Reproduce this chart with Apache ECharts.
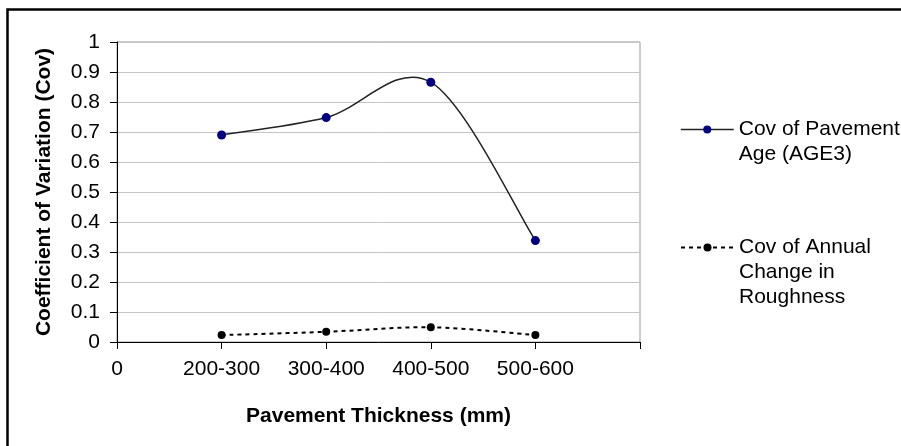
<!DOCTYPE html>
<html>
<head>
<meta charset="utf-8">
<script src="https://cdn.jsdelivr.net/npm/echarts@6/dist/echarts.min.js"></script>
<style>
html,body{margin:0;padding:0;background:#fff;}
#chart{width:901px;height:446px;}
</style>
</head>
<body>
<div id="chart"></div>
<script>
// ---- data ----
var categories = ['200-300', '300-400', '400-500', '500-600'];
var xTickLabels = ['0', '200-300', '300-400', '400-500', '500-600', ''];
var covAge = [0.69, 0.748, 0.866, 0.338];
var covRoughness = [0.023, 0.034, 0.049, 0.023];
var seriesNames = ['Cov of Pavement Age (AGE3)', 'Cov of Annual Change in Roughness'];
var legendText = [' \nCov of Pavement\nAge (AGE3)', ' \n \nCov of Annual\nChange in\nRoughness'];

var FONT = "'Liberation Sans', Arial, sans-serif";

function toPoints(vals) {
  return vals.map(function (v, i) { return [i + 1, v]; });
}

// Excel-like (Catmull-Rom) smoothed path through the data, mapped via the axes
function splineRenderer(values, stroke, width, dash) {
  return function (params, api) {
    if (params.dataIndex !== 0) return null;
    var pts = values.map(function (v, i) { return api.coord([i + 1, v]); });
    var n = pts.length;
    var d = 'M' + pts[0][0] + ' ' + pts[0][1];
    for (var i = 0; i < n - 1; i++) {
      var p0 = pts[Math.max(i - 1, 0)], p1 = pts[i], p2 = pts[i + 1], p3 = pts[Math.min(i + 2, n - 1)];
      var c1x = p1[0] + (p2[0] - p0[0]) / 6, c1y = p1[1] + (p2[1] - p0[1]) / 6;
      var c2x = p2[0] - (p3[0] - p1[0]) / 6, c2y = p2[1] - (p3[1] - p1[1]) / 6;
      d += ' C' + c1x + ' ' + c1y + ' ' + c2x + ' ' + c2y + ' ' + p2[0] + ' ' + p2[1];
    }
    return {
      type: 'path',
      shape: { pathData: d },
      style: { fill: 'none', stroke: stroke, lineWidth: width, lineDash: dash || null }
    };
  };
}

var chart = echarts.init(document.getElementById('chart'));
chart.setOption({
  animation: false,
  backgroundColor: '#fff',
  textStyle: { fontFamily: FONT },
  grid: { left: 117, right: 261, top: 42, bottom: 104, show: true, borderColor: '#9a9a9a', borderWidth: 1, backgroundColor: 'transparent' },
  xAxis: {
    type: 'value', min: 0, max: 5, interval: 1,
    name: 'Pavement Thickness (mm)', nameLocation: 'middle', nameGap: 64,
    nameTextStyle: { fontFamily: FONT, fontSize: 21, fontWeight: 'bold', color: '#000' },
    axisLine: { show: true, onZero: false, lineStyle: { color: '#000', width: 1 } },
    axisTick: { show: true, length: 7, lineStyle: { color: '#000' } },
    axisLabel: { fontFamily: FONT, fontSize: 21, color: '#000', margin: 17,
      formatter: function (v) { return xTickLabels[Math.round(v)]; } },
    splitLine: { show: false }
  },
  yAxis: {
    type: 'value', min: 0, max: 1, interval: 0.1,
    name: 'Coefficient of Variation (Cov)', nameLocation: 'middle', nameGap: 62,
    nameTextStyle: { fontFamily: FONT, fontSize: 21, fontWeight: 'bold', color: '#000' },
    axisLine: { show: true, lineStyle: { color: '#000', width: 1 } },
    axisTick: { show: true, length: 7, lineStyle: { color: '#000' } },
    axisLabel: { fontFamily: FONT, fontSize: 21, color: '#000', margin: 17,
      formatter: function (v) { return String(Math.round(v * 10) / 10); } },
    splitLine: { show: true, lineStyle: { color: '#c4c4c4', width: 1 } }
  },
  legend: [
    {
      data: [{ name: seriesNames[0] }], orient: 'vertical', left: 680, top: 92, padding: 0,
      itemWidth: 53, itemHeight: 10,
      lineStyle: { color: '#222', width: 1.5, opacity: 1 },
      textStyle: { fontFamily: FONT, fontSize: 21, color: '#000', lineHeight: 25 },
      formatter: function () { return legendText[0]; }
    },
    {
      data: [{ name: seriesNames[1] }], orient: 'vertical', left: 680, top: 185, padding: 0,
      itemWidth: 53, itemHeight: 10,
      lineStyle: { color: '#000', width: 2, opacity: 1 },
      textStyle: { fontFamily: FONT, fontSize: 21, color: '#000', lineHeight: 25 },
      formatter: function () { return legendText[1]; }
    }
  ],
  graphic: [
    { type: 'rect', shape: { x: 7.5, y: 9.5, width: 1000, height: 1000 }, style: { fill: 'none', stroke: '#000', lineWidth: 2.5 }, silent: true, z: 100 }
  ],
  series: [
    {
      name: 'age-curve', type: 'custom', coordinateSystem: 'cartesian2d',
      data: toPoints(covAge), encode: { x: 0, y: 1 }, z: 1,
      renderItem: splineRenderer(covAge, '#222', 1.5), silent: true
    },
    {
      name: 'rough-curve', type: 'custom', coordinateSystem: 'cartesian2d',
      data: toPoints(covRoughness), encode: { x: 0, y: 1 }, z: 1,
      renderItem: splineRenderer(covRoughness, '#000', 2, [4, 4]), silent: true
    },
    {
      name: seriesNames[0], type: 'line', data: toPoints(covAge), z: 3,
      symbol: 'circle', symbolSize: 9,
      itemStyle: { color: '#000080' },
      lineStyle: { color: '#222', width: 1.5, opacity: 0 }
    },
    {
      name: seriesNames[1], type: 'line', data: toPoints(covRoughness), z: 3,
      symbol: 'circle', symbolSize: 8,
      itemStyle: { color: '#000' },
      lineStyle: { color: '#000', width: 2, type: [4, 4], opacity: 0 }
    }
  ]
});
</script>
</body>
</html>
